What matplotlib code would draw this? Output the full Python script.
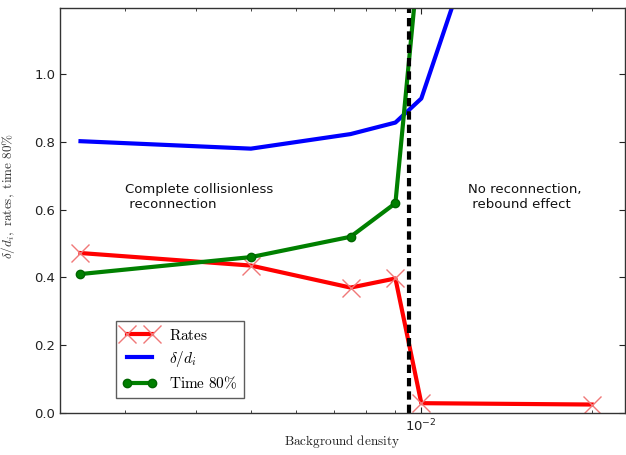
import matplotlib
matplotlib.use("Agg")
import matplotlib.pyplot as plt
from matplotlib.ticker import NullFormatter

# Background density values for each run
density = [2.5e-3, 5e-3, 7.5e-3, 9e-3, 1e-2, 2e-2]
density_time = [2.5e-3, 5e-3, 7.5e-3, 9e-3, 1e-2]

rates = [0.472, 0.435, 0.370, 0.397, 0.029, 0.025]
delta_di = [0.802, 0.780, 0.823, 0.857, 0.928, 2.42]
time80 = [0.410, 0.460, 0.520, 0.619, 1.42]

threshold = 9.5e-3

plt.rcParams['mathtext.fontset'] = 'dejavusans'

fig = plt.figure(figsize=(6.26, 4.55), dpi=100)
ax = fig.add_axes([60 / 626, 1 - 413 / 455, 565 / 626, 405 / 455])

ax.plot(density, rates, color=(1, 0, 0), lw=3, marker='x', ms=13,
        mec='#f07878', mew=1.0, label=r'$\mathrm{Rates}$')
ax.plot(density, delta_di, color=(0, 0, 1), lw=3, label=r'$\delta/d_i$')
ax.plot(density_time, time80, color=(0, 0.5, 0), lw=3, marker='o', ms=6,
        mec=(0, 0.4, 0), label=r'$\mathrm{Time\ 80\%}$')

ax.axvline(threshold, color='black', lw=3, linestyle=(0, (2, 1.2)))

ax.set_xscale('log')
ax.set_xlim(2.3e-3, 2.29e-2)
ax.xaxis.set_minor_formatter(NullFormatter())
ax.set_ylim(0, 1.195)
ax.set_yticks([0.0, 0.2, 0.4, 0.6, 0.8, 1.0])
ax.set_yticklabels(['0.0', '0.2', '0.4', '0.6', '0.8', '1.0'])

ax.tick_params(which='both', direction='in', top=True, right=True,
               labelsize=9.5, colors='#222222')
ax.tick_params(which='major', length=4)
ax.tick_params(which='minor', length=2)
for s in ax.spines.values():
    s.set_color('#333333')
    s.set_linewidth(1)

ax.text(3.0e-3, 0.678, 'Complete collisionless\n reconnection',
        fontsize=9.5, va='top', ha='left', color='#111111')
ax.text(1.21e-2, 0.678, 'No reconnection,\n rebound effect',
        fontsize=9.5, va='top', ha='left', color='#111111')

ax.set_xlabel(r'$\mathrm{Background\ density}$', fontsize=9.5,
              math_fontfamily='cm', color='#222222')
ax.set_ylabel(r'$\delta/d_i,\ \mathrm{rates,\ time\ 80\%}$', fontsize=9.5,
              math_fontfamily='cm', color='#333333')
ax.yaxis.set_label_coords(-0.076, 0.536)
ax.xaxis.set_label_coords(0.5, -0.05)

leg = ax.legend(loc='lower left', bbox_to_anchor=(0.099, 0.037),
                borderaxespad=0, fancybox=False, numpoints=2,
                prop={'size': 11, 'math_fontfamily': 'cm'},
                handlelength=2.2, labelspacing=0.4, borderpad=0.45)
leg.get_frame().set_edgecolor('#333333')
leg.get_frame().set_linewidth(1)

fig.savefig('out.png', dpi=100)
